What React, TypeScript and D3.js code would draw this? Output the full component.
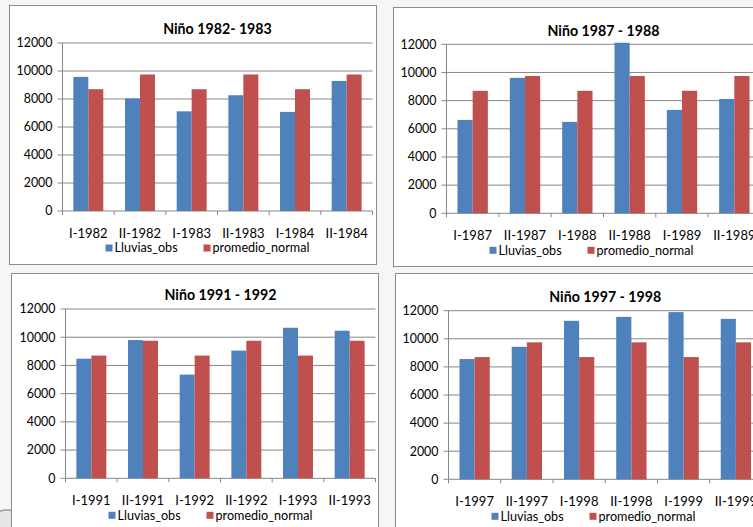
import React from "react";
import * as d3 from "d3";

const titles = ["Niño 1982- 1983", "Niño 1987 - 1988", "Niño 1991 - 1992", "Niño 1997 - 1998"];
const categories8283 = ["I-1982", "II-1982", "I-1983", "II-1983", "I-1984", "II-1984"];
const categories8788 = ["I-1987", "II-1987", "I-1988", "II-1988", "I-1989", "II-1989"];
const categories9192 = ["I-1991", "II-1991", "I-1992", "II-1992", "I-1993", "II-1993"];
const categories9798 = ["I-1997", "II-1997", "I-1998", "II-1998", "I-1999", "II-1999"];
const lluvias8283 = [9580, 8040, 7120, 8270, 7080, 9290];
const lluvias8788 = [6630, 9620, 6490, 12110, 7340, 8120];
const lluvias9192 = [8480, 9800, 7350, 9050, 10670, 10460];
const lluvias9798 = [8560, 9430, 11280, 11560, 11900, 11420];
const promedioNormal = [8700, 9750, 8700, 9750, 8700, 9750];
const seriesNames = ["Lluvias_obs", "promedio_normal"];
const seriesColors = ["#4F81BD", "#C0504D"];
const yTicks = [0, 2000, 4000, 6000, 8000, 10000, 12000];

const FONT = "Lato, 'Open Sans', sans-serif";
const GRID = "#868686";

type Layout = { box: [number, number, number, number]; plot: [number, number, number, number] };

function Chart({ title, categories, obs, normal, layout }: { title: string; categories: string[]; obs: number[]; normal: number[]; layout: Layout }) {
  const [bx0, by0, bx1, by1] = layout.box;
  const [px0, py0, px1, py1] = layout.plot;
  const x = d3.scaleBand<string>().domain(categories).range([px0, px1]).paddingInner(0.42).paddingOuter(0.21);
  const step = (px1 - px0) / categories.length;
  const inner = d3.scaleBand<string>().domain(seriesNames).range([0, x.bandwidth()]).padding(0);
  const y = d3.scaleLinear().domain([0, 12000]).range([py1, py0]);
  const series = [obs, normal];
  const cx = (px0 + px1) / 2;
  return (
    <g>
      <rect x={bx0} y={by0} width={bx1 - bx0} height={by1 - by0} fill="#ffffff" stroke="#8c8c8c" strokeWidth={1} />
      {yTicks.map((t) => (
        <g key={t}>
          <line x1={px0 - 5} x2={px1} y1={y(t)} y2={y(t)} stroke={GRID} strokeWidth={1} />
          <text x={px0 - 10} y={y(t)} dy="0.35em" textAnchor="end" fontSize={12.4} fontFamily={FONT} fill="#000">{t}</text>
        </g>
      ))}
      {categories.map((c, i) => (
        <g key={c}>
          {series.map((vals, s) => (
            <rect key={s} x={(x(c) as number) + (inner(seriesNames[s]) as number)} y={y(vals[i])} width={inner.bandwidth()} height={y(0) - y(vals[i])} fill={seriesColors[s]} />
          ))}
          <text x={(x(c) as number) + x.bandwidth() / 2} y={py1 + 22} dy="0.35em" textAnchor="middle" fontSize={13} fontFamily={FONT} fill="#000">{c}</text>
        </g>
      ))}
      <line x1={px0} x2={px0} y1={py0} y2={py1} stroke={GRID} strokeWidth={1} />
      {d3.range(categories.length + 1).map((k) => (
        <line key={k} x1={px0 + k * step} x2={px0 + k * step} y1={py1} y2={py1 + 4} stroke={GRID} strokeWidth={1} />
      ))}
      <text x={cx} y={py0 - 13.5} dy="0.35em" textAnchor="middle" fontSize={14.2} fontWeight="bold" fontFamily={FONT} fill="#000">{title}</text>
      {seriesNames.map((n, s) => {
        const lx = px0 + (s === 0 ? 43 : 141);
        const ly = py1 + 37;
        return (
          <g key={n}>
            <rect x={lx} y={ly - 3.5} width={7} height={7} fill={seriesColors[s]} />
            <text x={lx + 9} y={ly} dy="0.35em" fontSize={12.6} fontFamily={FONT} fill="#000">{n}</text>
          </g>
        );
      })}
    </g>
  );
}

const layouts: Layout[] = [
  { box: [9.5, 5.5, 376.5, 264.5], plot: [62.5, 43, 372.5, 211] },
  { box: [393.5, 7.5, 790, 266.5], plot: [446.5, 44.3, 760.5, 213.3] },
  { box: [11.5, 273.5, 378.5, 560], plot: [65.5, 309, 375.5, 478.3] },
  { box: [395.5, 273.5, 790, 560], plot: [448.5, 310.7, 762, 479.3] },
];

export default function App() {
  const cats = [categories8283, categories8788, categories9192, categories9798];
  const obs = [lluvias8283, lluvias8788, lluvias9192, lluvias9798];
  return (
    <svg width={753} height={527} style={{ position: "fixed", left: 0, top: 0 }}>
      <rect x={0} y={0} width={753} height={527} fill="#f6f6f6" />
      <circle cx={8} cy={540} r={30} fill="#e6e6e6" stroke="#9a9a9a" strokeWidth={1.5} />
      {layouts.map((l, i) => (
        <Chart key={i} title={titles[i]} categories={cats[i]} obs={obs[i]} normal={promedioNormal} layout={l} />
      ))}
    </svg>
  );
}
